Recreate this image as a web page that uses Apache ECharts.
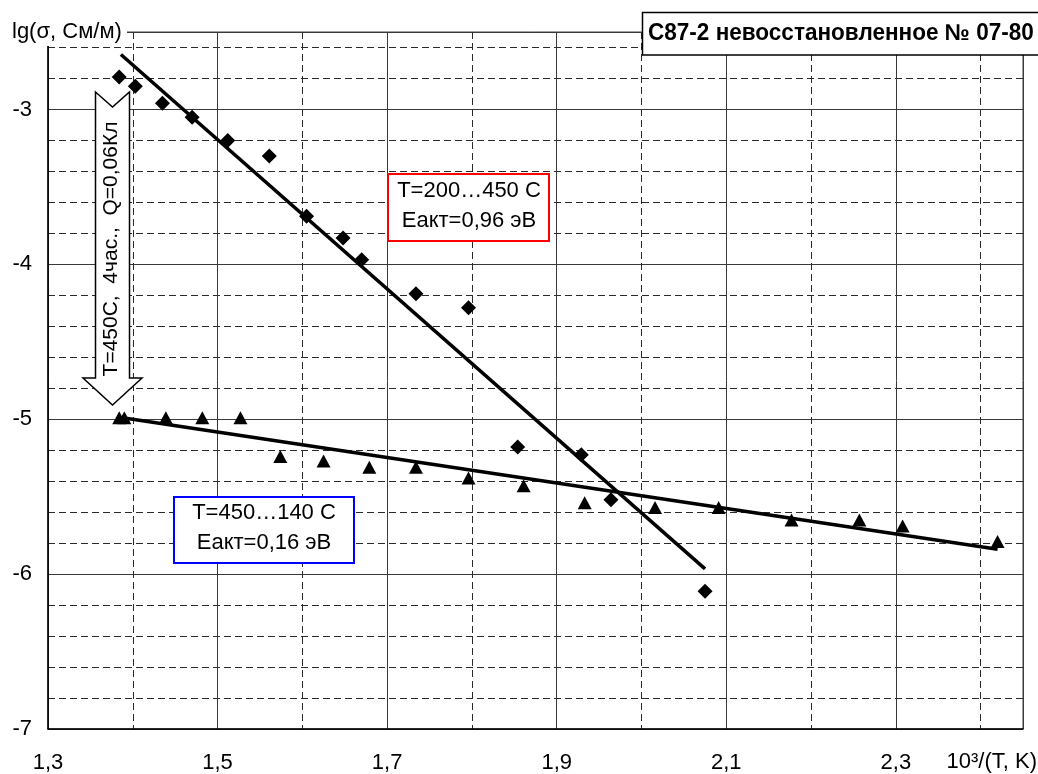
<!DOCTYPE html>
<html><head><meta charset="utf-8">
<script src="https://cdn.jsdelivr.net/npm/echarts@6/dist/echarts.min.js"></script>
<style>html,body{margin:0;padding:0;background:#fff}#c{width:1038px;height:774px}</style>
</head><body><div id="c"></div>
<script>
// Diamonds: T=200...450 C
const diamondX = [1.384, 1.403, 1.435, 1.470, 1.512, 1.561, 1.605, 1.648, 1.670, 1.734, 1.796, 1.854, 1.929, 1.964, 2.075];
const diamondY = [-2.79, -2.85, -2.96, -3.05, -3.20, -3.30, -3.69, -3.83, -3.97, -4.19, -4.28, -5.18, -5.23, -5.52, -6.11];
// Triangles: T=450...140 C
const triX = [1.384, 1.390, 1.439, 1.482, 1.527, 1.574, 1.625, 1.679, 1.734, 1.796, 1.861, 1.933, 2.016, 2.091, 2.177, 2.257, 2.308, 2.420];
const triY = [-4.99, -4.99, -4.99, -4.99, -4.99, -5.24, -5.27, -5.31, -5.31, -5.38, -5.43, -5.54, -5.57, -5.57, -5.65, -5.65, -5.69, -5.79];
// Fit lines (endpoints)
const fit1X = [1.386, 2.075];
const fit1Y = [-2.645, -5.966];
const fit2X = [1.388, 2.420];
const fit2Y = [-4.99, -5.84];
// Axis labels
const xLabelTicks = ['1,3', '1,5', '1,7', '1,9', '2,1', '2,3'];
const yLabelTicks = ['-7', '-6', '-5', '-4', '-3'];
const yTitle = 'lg(σ, См/м)';
const xTitle = '10³/(T, K)';
const boxTitle = 'С87-2 невосстановленное № 07-80';
const note1 = ['T=200…450 С', 'Еакт=0,96 эВ'];
const note2 = ['T=450…140 С', 'Еакт=0,16 эВ'];
const arrowNote = 'T=450C,  4час.,  Q=0,06Кл';

const FONT = '"Liberation Sans", Arial, sans-serif';
const zip = (a, b) => a.map((v, i) => [v, b[i]]);

const chart = echarts.init(document.getElementById('c'), null, {renderer: 'canvas'});
const xFmt = v => {
  const k = Math.round(v * 10);
  if (Math.abs(v * 10 - k) > 1e-6) return '';
  const s = (k / 10).toFixed(1).replace('.', ',');
  return xLabelTicks.indexOf(s) >= 0 ? s : '';
};
const yFmt = v => {
  const k = Math.round(v);
  if (Math.abs(v - k) > 1e-6) return '';
  const s = String(k);
  return yLabelTicks.indexOf(s) >= 0 ? s : '';
};
function txt(x, y, text, opt) {
  return Object.assign({
    type: 'text', x: x, y: y, z: 20,
    style: Object.assign({
      text: text, fill: '#000', font: '22px ' + FONT,
      align: 'center', verticalAlign: 'middle',
      textAlign: 'center', textVerticalAlign: 'middle'
    }, opt && opt.style || {})
  }, opt && opt.el || {});
}

chart.setOption({
  animation: false,
  backgroundColor: '#fff',
  grid: {left: 48, right: 15, top: 32, bottom: 45, show: true, borderColor: '#444', borderWidth: 1, backgroundColor: 'transparent'},
  xAxis: [
    {type: 'value', min: 1.3, max: 2.45, interval: 0.1, position: 'bottom',
     axisLine: {show: false}, axisTick: {show: false}, axisLabel: {show: false},
     splitLine: {show: true, lineStyle: {color: '#2a2a2a', width: 1, type: [7, 4]}}},
    {type: 'value', min: 1.3, max: 2.45, interval: 0.2, position: 'bottom',
     axisLine: {show: true, onZero: false, lineStyle: {color: '#000', width: 1.5}},
     axisTick: {show: false},
     axisLabel: {show: true, formatter: xFmt, margin: 23, fontSize: 22, color: '#000', fontFamily: FONT, showMaxLabel: false},
     splitLine: {show: true, lineStyle: {color: '#3a3a3a', width: 1}}}
  ],
  yAxis: [
    {type: 'value', min: -7, max: -2.5, interval: 0.2, position: 'left',
     axisLine: {show: false}, axisTick: {show: false}, axisLabel: {show: false},
     splitLine: {show: true, lineStyle: {color: '#2a2a2a', width: 1, type: [7, 4]}}},
    {type: 'value', min: -7, max: -2.5, interval: 1, position: 'left',
     axisLine: {show: true, onZero: false, lineStyle: {color: '#000', width: 1.5}},
     axisTick: {show: false},
     axisLabel: {show: true, formatter: yFmt, margin: 16, fontSize: 22, color: '#000', fontFamily: FONT, showMaxLabel: false},
     splitLine: {show: true, lineStyle: {color: '#3a3a3a', width: 1}}}
  ],
  series: [
    {type: 'line', xAxisIndex: 0, yAxisIndex: 0, data: zip(fit1X, fit1Y), showSymbol: false, symbol: 'none',
     lineStyle: {color: '#000', width: 3.5, opacity: 1}, z: 3},
    {type: 'line', xAxisIndex: 0, yAxisIndex: 0, data: zip(fit2X, fit2Y), showSymbol: false, symbol: 'none',
     lineStyle: {color: '#000', width: 3.5, opacity: 1}, z: 3},
    {type: 'scatter', xAxisIndex: 0, yAxisIndex: 0, data: zip(diamondX, diamondY), symbol: 'diamond', symbolSize: [15, 15],
     itemStyle: {color: '#000', opacity: 1}, z: 4},
    {type: 'scatter', xAxisIndex: 0, yAxisIndex: 0, data: zip(triX, triY), symbol: 'triangle', symbolSize: [14, 13],
     itemStyle: {color: '#000', opacity: 1}, z: 4}
  ],
  graphic: [
    // y title with white background
    {type: 'rect', z: 15, shape: {x: 0, y: 14, width: 127, height: 32}, style: {fill: '#fff'}},
    txt(12, 32, yTitle, {style: {align: 'left', textAlign: 'left'}}),
    // x title
    txt(1037, 762, xTitle, {style: {align: 'right', textAlign: 'right'}}),
    // title box
    {type: 'rect', z: 15, shape: {x: 642.5, y: 12.5, width: 420, height: 42.5}, style: {fill: '#fff', stroke: '#000', lineWidth: 1.5}},
    txt(648, 34, boxTitle, {style: {align: 'left', textAlign: 'left', font: 'bold 23px ' + FONT}, el: {scaleX: 0.98}}),
    // arrow
    {type: 'polygon', z: 15, shape: {points: [[95.5, 92], [112.5, 107], [129.5, 92], [129.5, 378], [142, 378], [112.5, 405], [83, 378], [95.5, 378]]},
     style: {fill: '#fff', stroke: '#000', lineWidth: 1.5}},
    txt(111, 249, arrowNote, {style: {font: '21px ' + FONT}, el: {rotation: Math.PI / 2}}),
    // red note
    {type: 'rect', z: 15, shape: {x: 388, y: 174, width: 161, height: 67}, style: {fill: '#fff', stroke: '#f00', lineWidth: 2}},
    txt(469, 191, note1[0]), txt(469, 221, note1[1]),
    // blue note
    {type: 'rect', z: 15, shape: {x: 174, y: 497, width: 180, height: 66}, style: {fill: '#fff', stroke: '#00f', lineWidth: 2}},
    txt(264, 513, note2[0]), txt(264, 543, note2[1])
  ]
});
</script></body></html>
